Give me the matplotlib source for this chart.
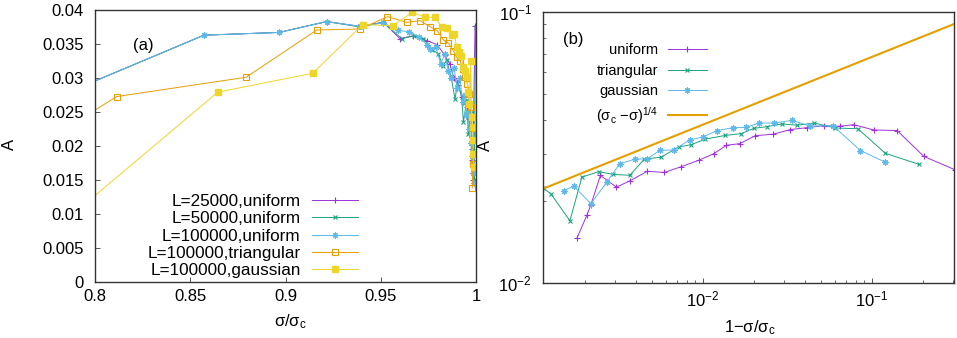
import numpy as np
import matplotlib
matplotlib.use("Agg")
import matplotlib.pyplot as plt
from matplotlib import ticker

plt.rcParams['font.family'] = ['Liberation Sans', 'DejaVu Sans']
plt.rcParams['mathtext.fontset'] = 'custom'
plt.rcParams['mathtext.rm'] = 'Liberation Sans'
plt.rcParams['mathtext.it'] = 'Liberation Sans:italic'
plt.rcParams['mathtext.bf'] = 'Liberation Sans:bold'

# ---------------- panel (a) data: A vs sigma/sigma_c ----------------
s_25k = [0.7978, 0.8572, 0.8966, 0.9216, 0.9391, 0.9514, 0.9600, 0.9671, 0.9742, 0.9796,
         0.9835, 0.9863, 0.9884, 0.9906, 0.9926, 0.9941, 0.9953, 0.9963, 0.9969, 0.9975,
         0.9978, 0.9979, 0.9982, 0.9995]
A_25k = [0.0293, 0.0363, 0.0367, 0.0383, 0.0376, 0.0382, 0.0358, 0.0362, 0.0355, 0.0349,
         0.0334, 0.0320, 0.0300, 0.0290, 0.0272, 0.0262, 0.0258, 0.0240, 0.0228, 0.0230,
         0.0196, 0.0180, 0.0150, 0.0376]

s_50k = [0.7978, 0.8572, 0.8966, 0.9216, 0.9391, 0.9514, 0.9610, 0.9676, 0.9724, 0.9771,
         0.9802, 0.9825, 0.9846, 0.9869, 0.9890, 0.9904, 0.9925, 0.9934, 0.9951, 0.9960,
         0.9972, 0.9981, 0.9986, 0.9990, 0.9998]
A_50k = [0.0293, 0.0363, 0.0367, 0.0383, 0.0375, 0.0382, 0.0358, 0.0362, 0.0358, 0.0341,
         0.0336, 0.0318, 0.0326, 0.0302, 0.0269, 0.0295, 0.0272, 0.0235, 0.0267, 0.0218,
         0.0252, 0.0193, 0.0169, 0.0150, 0.0375]

s_100k = [0.7978, 0.8572, 0.8966, 0.9216, 0.9391, 0.9514, 0.9590, 0.9650, 0.9700, 0.9742,
          0.9760, 0.9790, 0.9815, 0.9835, 0.9855, 0.9870, 0.9885, 0.9900, 0.9915, 0.9930,
          0.9940, 0.9950, 0.9958, 0.9965, 0.9972, 0.9978, 0.9983, 0.9988]
A_100k = [0.0293, 0.0363, 0.0367, 0.0383, 0.0376, 0.0381, 0.0370, 0.0368, 0.0360, 0.0349,
          0.0342, 0.0345, 0.0320, 0.0335, 0.0310, 0.0300, 0.0315, 0.0285, 0.0300, 0.0265,
          0.0275, 0.0245, 0.0250, 0.0225, 0.0205, 0.0185, 0.0160, 0.0145]

s_tri = [0.7800, 0.8114, 0.8793, 0.9164, 0.9391, 0.9535, 0.9636, 0.9706, 0.9759, 0.9797,
         0.9829, 0.9855, 0.9881, 0.9899, 0.9916, 0.9930, 0.9942, 0.9955, 0.9965, 0.9972,
         0.9977, 0.9983, 0.9981]
A_tri = [0.0218, 0.02727, 0.03011, 0.03706, 0.03721, 0.03902, 0.03819, 0.03843, 0.03755,
         0.03696, 0.03559, 0.03515, 0.03403, 0.03305, 0.03256, 0.03133, 0.03011, 0.02913,
         0.02766, 0.02570, 0.02179, 0.01738, 0.01385]

s_gau = [0.7800, 0.8644, 0.9143, 0.9405, 0.9563, 0.9666, 0.9732, 0.9785, 0.9820, 0.9846,
         0.9872, 0.9885, 0.9899, 0.9911, 0.9920, 0.9934, 0.9942, 0.9951, 0.9960, 0.9965,
         0.9972, 0.9977, 0.9983, 0.9986, 0.9983, 0.9990]
A_gau = [0.0080, 0.02791, 0.03070, 0.03785, 0.03770, 0.03966, 0.03892, 0.03892, 0.03745,
         0.03735, 0.03633, 0.03647, 0.03452, 0.03378, 0.03329, 0.03158, 0.03109, 0.03011,
         0.02791, 0.02619, 0.03256, 0.02423, 0.02277, 0.02081, 0.01885, 0.01689]

# ---------------- panel (b) data: A vs 1 - sigma/sigma_c ----------------
x_uni = [0.001796, 0.00206, 0.00217, 0.00247, 0.00307, 0.00371, 0.00467, 0.00590, 0.00741,
         0.00942, 0.01156, 0.01374, 0.01648, 0.0204, 0.02584, 0.03287, 0.04123, 0.05174,
         0.06436, 0.07793, 0.1023, 0.1406, 0.2022, 0.3083]
y_uni = [0.01466, 0.01786, 0.01945, 0.02494, 0.02258, 0.02386, 0.02583, 0.02559, 0.02685,
         0.02837, 0.03000, 0.03222, 0.03268, 0.03498, 0.03538, 0.03682, 0.03744, 0.03807,
         0.03790, 0.03837, 0.03670, 0.03652, 0.02932, 0.02619]

x_tri = [0.00113, 0.00126, 0.00163, 0.00192, 0.00241, 0.00293, 0.00368, 0.00450, 0.00564,
         0.00717, 0.00849, 0.01032, 0.01355, 0.01679, 0.01995, 0.02392, 0.02933, 0.03597,
         0.04556, 0.06067, 0.08226, 0.1199, 0.1888]
y_tri = [0.02244, 0.02131, 0.01698, 0.02459, 0.02575, 0.02518, 0.02496, 0.02868, 0.02910,
         0.03178, 0.03238, 0.03397, 0.03505, 0.03556, 0.03722, 0.03776, 0.03863, 0.03821,
         0.03893, 0.03731, 0.03709, 0.03009, 0.02742]

x_gau = [0.00150, 0.00172, 0.00217, 0.00270, 0.00321, 0.00398, 0.00467, 0.00555, 0.00670,
         0.00834, 0.01000, 0.01210, 0.01506, 0.01805, 0.02133, 0.02641, 0.03362, 0.04316,
         0.05872, 0.08534, 0.1188]
y_gau = [0.02194, 0.02275, 0.01963, 0.02360, 0.02754, 0.02868, 0.02868, 0.03089, 0.03097,
         0.03373, 0.03458, 0.03652, 0.03744, 0.03753, 0.03893, 0.03893, 0.03983, 0.03790,
         0.03807, 0.03080, 0.02798]

fit_prefactor = 0.1215
fit_exponent = 0.25

legend_a = ['L=25000,uniform', 'L=50000,uniform', 'L=100000,uniform',
            'L=100000,triangular', 'L=100000,gaussian']
legend_b = ['uniform', 'triangular', 'gaussian', '(σ$_\\mathrm{c}$ −σ)$^{1/4}$']

C_PUR = '#A030DA'
C_GRN = '#1AA37E'
C_BLU = '#5FB8EA'
C_ORA = '#E69F00'
C_YEL = '#EED52A'
ASTER = (8, 2, 0)

W, H = 957, 338
fig = plt.figure(figsize=(W / 100, H / 100), dpi=100)

def frac(l, t, r, b):
    return [l / W, 1 - b / H, (r - l) / W, (b - t) / H]

axA = fig.add_axes(frac(95, 10, 476, 282))
axB = fig.add_axes(frac(543, 12, 954, 283))

for ax in (axA, axB):
    for sp in ax.spines.values():
        sp.set_color('#333333')
        sp.set_linewidth(1.0)
    ax.tick_params(which='both', direction='in', top=False, right=False,
                   labelsize=12, color='#555555')
    ax.tick_params(which='major', length=3.5, width=0.7)
    ax.tick_params(which='minor', length=2.0, width=0.6)

# ----- panel (a)
lw = 0.7
axA.plot(s_25k, A_25k, color=C_PUR, lw=lw, marker='+', ms=4, mew=0.8, label=legend_a[0])
axA.plot(s_50k, A_50k, color=C_GRN, lw=lw, marker='x', ms=3.5, mew=0.8, label=legend_a[1])
axA.plot(s_100k, A_100k, color=C_BLU, lw=lw, marker=ASTER, ms=4.5, mew=0.8, label=legend_a[2])
axA.plot(s_tri, A_tri, color=C_ORA, lw=lw, marker='s', ms=4.2, mfc='none', mew=0.8, label=legend_a[3])
axA.plot(s_gau, A_gau, color=C_YEL, lw=lw, marker='s', ms=4.2, mfc=C_YEL, mec=C_YEL, label=legend_a[4])
axA.set_xlim(0.8, 1.0)
axA.set_ylim(0, 0.04)
axA.set_xticks([0.8, 0.85, 0.9, 0.95, 1.0])
axA.set_yticks(np.arange(0, 0.0401, 0.005))
fmt = ticker.FuncFormatter(lambda v, p: '%g' % round(v, 4))
axA.xaxis.set_major_formatter(fmt)
axA.yaxis.set_major_formatter(fmt)
axA.tick_params(axis='x', pad=5)
axA.tick_params(axis='y', pad=8)
axA.set_xlabel('σ/σ$_\\mathrm{c}$', fontsize=12)
axA.set_ylabel('A', fontsize=12)
axA.xaxis.set_label_coords(0.512, -0.112)
axA.yaxis.set_label_coords(-0.205, 0.504)
axA.text(0.126, 0.871, '(a)', transform=axA.transAxes, fontsize=12, ha='center', va='center')
axA.legend(loc='upper right', bbox_to_anchor=(0.690, 0.322), markerfirst=False, frameon=False,
           fontsize=12.3, borderpad=0, borderaxespad=0, handlelength=2.7, handletextpad=0.65,
           labelspacing=0.12, numpoints=1)

# ----- panel (b)
axB.set_xscale('log')
axB.set_yscale('log')
axB.plot(x_uni, y_uni, color=C_PUR, lw=lw, marker='+', ms=4, mew=0.8, label=legend_b[0])
axB.plot(x_tri, y_tri, color=C_GRN, lw=lw, marker='x', ms=3.5, mew=0.8, label=legend_b[1])
axB.plot(x_gau, y_gau, color=C_BLU, lw=lw, marker=ASTER, ms=4.5, mew=0.8, label=legend_b[2])
xmin, xmax = 0.00113, 0.305
xf = np.logspace(np.log10(xmin), np.log10(xmax), 100)
axB.plot(xf, fit_prefactor * xf ** fit_exponent, color=C_ORA, lw=1.5, label=legend_b[3])
axB.set_xlim(xmin, xmax)
axB.set_ylim(0.01, 0.1)
axB.xaxis.set_major_locator(ticker.LogLocator(base=10, numticks=10))
axB.xaxis.set_minor_locator(ticker.LogLocator(base=10, subs=np.arange(2, 10), numticks=20))
axB.yaxis.set_minor_locator(ticker.LogLocator(base=10, subs=np.arange(2, 10), numticks=20))
axB.xaxis.set_minor_formatter(ticker.NullFormatter())
axB.yaxis.set_minor_formatter(ticker.NullFormatter())
axB.tick_params(axis='x', pad=5)
axB.tick_params(axis='y', pad=8)
axB.set_xlabel('1−σ/σ$_\\mathrm{c}$', fontsize=12)
axB.set_ylabel('A', fontsize=12)
axB.xaxis.set_label_coords(0.504, -0.129)
axB.yaxis.set_label_coords(-0.122, 0.509)
axB.text(0.073, 0.90, '(b)', transform=axB.transAxes, fontsize=12, ha='center', va='center')
axB.legend(loc='upper right', bbox_to_anchor=(0.399, 0.885), markerfirst=False, frameon=False,
           fontsize=10.5, borderpad=0, borderaxespad=0, handlelength=2.7, handletextpad=0.62,
           labelspacing=0.45, numpoints=1)

fig.savefig('out.png', dpi=100)
